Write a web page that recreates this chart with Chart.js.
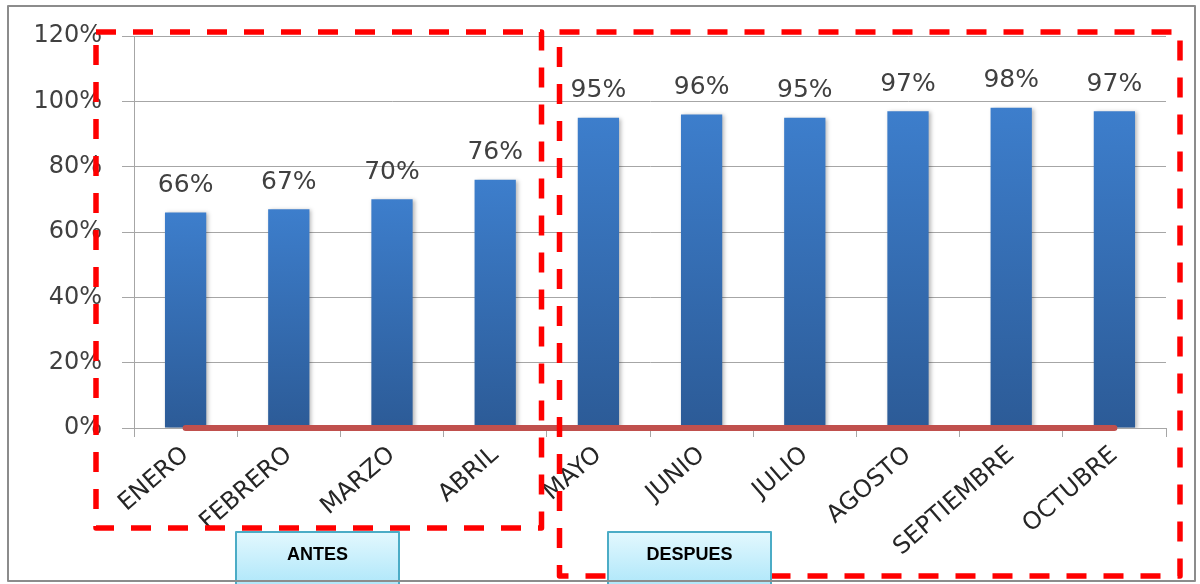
<!DOCTYPE html>
<html>
<head>
<meta charset="utf-8">
<script src="https://cdn.jsdelivr.net/npm/chart.js@4.4.1/dist/chart.umd.min.js"></script>
<style>
  html, body { margin: 0; padding: 0; background: #ffffff; }
  #wrap { width: 1200px; height: 584px; position: relative; }
</style>
</head>
<body>
<div id="wrap"><canvas id="c" width="1200" height="584"></canvas></div>
<script>
// Monthly compliance, in percent
const months = ['ENERO', 'FEBRERO', 'MARZO', 'ABRIL', 'MAYO', 'JUNIO', 'JULIO', 'AGOSTO', 'SEPTIEMBRE', 'OCTUBRE'];
const compliance = [66, 67, 70, 76, 95, 96, 95, 97, 98, 97];
const baseline = [0, 0, 0, 0, 0, 0, 0, 0, 0, 0];
const yMin = 0;
const yMax = 120;
const yStep = 20;
const periodNames = ['ANTES', 'DESPUES'];

const FONT = "'DejaVu Sans', 'Open Sans', sans-serif";

// Dashed period frames and their caption boxes
const frames = [
  { x0: 96, y0: 32, x1: 541.5, y1: 528 },
  { x0: 559.5, y0: 32, x1: 1180, y1: 576 }
];
const captions = [
  { x: 236, y: 532, w: 163, h: 60 },
  { x: 608, y: 532, w: 163, h: 60 }
];

const barShadow = {
  id: 'barShadow',
  beforeDatasetDraw(chart, args) {
    if (args.index !== 0) return;
    const ctx = chart.ctx;
    ctx.save();
    ctx.shadowColor = 'rgba(0,0,0,0.28)';
    ctx.shadowBlur = 4;
    ctx.shadowOffsetX = 2;
    ctx.shadowOffsetY = 1;
  },
  afterDatasetDraw(chart, args) {
    if (args.index !== 0) return;
    chart.ctx.restore();
  }
};

const valueLabels = {
  id: 'valueLabels',
  afterDatasetsDraw(chart) {
    const ctx = chart.ctx;
    const meta = chart.getDatasetMeta(0);
    ctx.save();
    ctx.font = '25px ' + FONT;
    ctx.fillStyle = '#404040';
    ctx.textAlign = 'center';
    ctx.textBaseline = 'middle';
    meta.data.forEach((bar, i) => {
      ctx.fillText(compliance[i] + '%', bar.x, bar.y - 27);
    });
    ctx.restore();
  }
};

const decorations = {
  id: 'decorations',
  afterDraw(chart) {
    const ctx = chart.ctx;
    ctx.save();
    // dashed frames
    ctx.strokeStyle = '#ff0000';
    ctx.lineWidth = 5.5;
    ctx.lineJoin = 'round';
    ctx.setLineDash([20, 17]);
    frames.forEach(f => {
      ctx.beginPath();
      ctx.rect(f.x0, f.y0, f.x1 - f.x0, f.y1 - f.y0);
      ctx.stroke();
    });
    ctx.setLineDash([]);
    // caption boxes
    captions.forEach((c, i) => {
      const g = ctx.createLinearGradient(0, c.y, 0, c.y + 50);
      g.addColorStop(0, '#e3f8fe');
      g.addColorStop(1, '#b2e8fa');
      ctx.fillStyle = g;
      ctx.fillRect(c.x, c.y, c.w, c.h);
      ctx.strokeStyle = '#4bacc6';
      ctx.lineWidth = 2;
      ctx.strokeRect(c.x, c.y, c.w, c.h);
      ctx.fillStyle = '#000000';
      ctx.font = "bold 18px 'Liberation Sans', Arial, sans-serif";
      ctx.textAlign = 'center';
      ctx.textBaseline = 'middle';
      ctx.fillText(periodNames[i], c.x + c.w / 2, 555);
    });
    // outer border
    ctx.strokeStyle = '#8c8c8c';
    ctx.lineWidth = 2;
    ctx.strokeRect(8, 6, 1187, 575);
    ctx.restore();
  }
};

new Chart(document.getElementById('c'), {
  data: {
    labels: months,
    datasets: [
      {
        type: 'bar',
        data: compliance,
        order: 2,
        categoryPercentage: 1,
        barPercentage: 0.4,
        borderWidth: 0,
        backgroundColor(context) {
          const chart = context.chart;
          if (!chart.chartArea || context.dataIndex === undefined) return '#3a73bb';
          const y = chart.scales.y;
          const top = y.getPixelForValue(compliance[context.dataIndex]);
          const bottom = y.getPixelForValue(0);
          const g = chart.ctx.createLinearGradient(0, top, 0, bottom);
          g.addColorStop(0, '#3d7ecc');
          g.addColorStop(1, '#2c5b97');
          return g;
        }
      },
      {
        type: 'line',
        data: baseline,
        order: 1,
        borderColor: '#c0504d',
        borderWidth: 6,
        borderCapStyle: 'round',
        pointRadius: 0,
        clip: false,
        fill: false
      }
    ]
  },
  options: {
    responsive: false,
    animation: false,
    events: [],
    layout: { padding: { left: 0, right: 34, top: 36, bottom: 0 } },
    plugins: { legend: { display: false }, tooltip: { enabled: false } },
    scales: {
      x: {
        offset: true,
        grid: { drawOnChartArea: false, drawTicks: true, tickLength: 9, color: '#a6a6a6', offset: true },
        border: { color: '#a6a6a6' },
        ticks: {
          autoSkip: false,
          minRotation: 41,
          maxRotation: 41,
          padding: 4,
          color: '#262626',
          font: { family: FONT, size: 24 }
        },
        afterFit(scale) { scale.height = 156; }
      },
      y: {
        min: yMin,
        max: yMax,
        grid: { color: '#a6a6a6', tickLength: 12 },
        border: { color: '#a6a6a6' },
        ticks: {
          stepSize: yStep,
          padding: 20,
          color: '#404040',
          font: { family: FONT, size: 24 },
          callback: v => v + '%'
        },
        afterFit(scale) { scale.width = 134; }
      }
    }
  },
  plugins: [barShadow, valueLabels, decorations]
});
</script>
</body>
</html>
